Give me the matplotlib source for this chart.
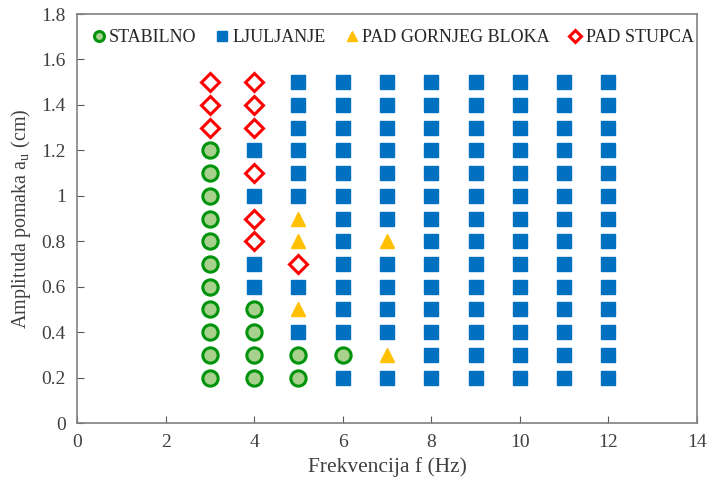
import numpy as np
from matplotlib import pyplot as plt

plt.rcParams['font.family'] = ['Liberation Serif', 'DejaVu Serif']

# STABILNO
stab_f = [3]*11 + [4]*4 + [5]*2 + [6]
stab_a = [0.2, 0.3, 0.4, 0.5, 0.6, 0.7, 0.8, 0.9, 1.0, 1.1, 1.2,
          0.2, 0.3, 0.4, 0.5,
          0.2, 0.3,
          0.3]

# LJULJANJE
col_full = [0.2, 0.3, 0.4, 0.5, 0.6, 0.7, 0.8, 0.9, 1.0, 1.1, 1.2, 1.3, 1.4, 1.5]
ljul_f = [4]*4 + [5]*8 + [6]*13 + [7]*12 + [8]*14 + [9]*14 + [10]*14 + [11]*14 + [12]*14
ljul_a = ([0.6, 0.7, 1.0, 1.2] +
          [0.4, 0.6, 1.0, 1.1, 1.2, 1.3, 1.4, 1.5] +
          [0.2, 0.4, 0.5, 0.6, 0.7, 0.8, 0.9, 1.0, 1.1, 1.2, 1.3, 1.4, 1.5] +
          [0.2, 0.4, 0.5, 0.6, 0.7, 0.9, 1.0, 1.1, 1.2, 1.3, 1.4, 1.5] +
          col_full * 5)

# PAD GORNJEG BLOKA
gb_f = [5, 5, 5, 7, 7]
gb_a = [0.5, 0.8, 0.9, 0.3, 0.8]

# PAD STUPCA
st_f = [3, 3, 3, 4, 4, 4, 4, 4, 4, 5]
st_a = [1.3, 1.4, 1.5, 0.8, 0.9, 1.1, 1.3, 1.4, 1.5, 0.7]

fig = plt.figure(figsize=(7.09, 4.90), dpi=100)
ax = fig.add_axes([0.1086, 0.1367, 0.8745, 0.8347])

ax.plot(stab_f, stab_a, 'o', ms=11, mfc='#A9D18E', mec='#00930C', mew=2.2, ls='none', label='STABILNO')
ax.plot(ljul_f, ljul_a, 's', ms=10.5, mfc='#0070C0', mec='#0070C0', ls='none', label='LJULJANJE')
ax.plot(gb_f, gb_a, '^', ms=10, mfc='#FFC000', mec='#FFC000', ls='none', label='PAD GORNJEG BLOKA')
ax.plot(st_f, st_a, 'D', ms=9, mfc='white', mec='#FF0000', mew=2.2, ls='none', label='PAD STUPCA')

ax.set_xlim(0, 14)
ax.set_ylim(0, 1.8)
ax.set_xticks(np.arange(0, 15, 2))
ax.set_yticks(np.arange(0, 1.81, 0.2))
ax.set_yticklabels(['0', '0.2', '0.4', '0.6', '0.8', '1', '1.2', '1.4', '1.6', '1.8'])
ax.tick_params(direction='in', length=5, labelsize=14, color='#595959', labelcolor='#404040', pad=8)
for s in ax.spines.values():
    s.set_color('#808080')
    s.set_linewidth(1.2)

ax.set_xlabel('Frekvencija f (Hz)', fontsize=15.5, color='#404040', labelpad=4)
ax.set_ylabel('Amplituda pomaka a$_\\mathregular{u}$ (cm)', fontsize=14.5, color='#404040', labelpad=6)

ax.legend(loc='upper center', bbox_to_anchor=(0.51, 1.0), ncol=4, frameon=False, fontsize=13,
          handletextpad=0.25, handlelength=0.65, columnspacing=1.1, markerscale=0.65,
          borderaxespad=0.45, labelcolor='#262626')

fig.savefig('out.png', dpi=100)
